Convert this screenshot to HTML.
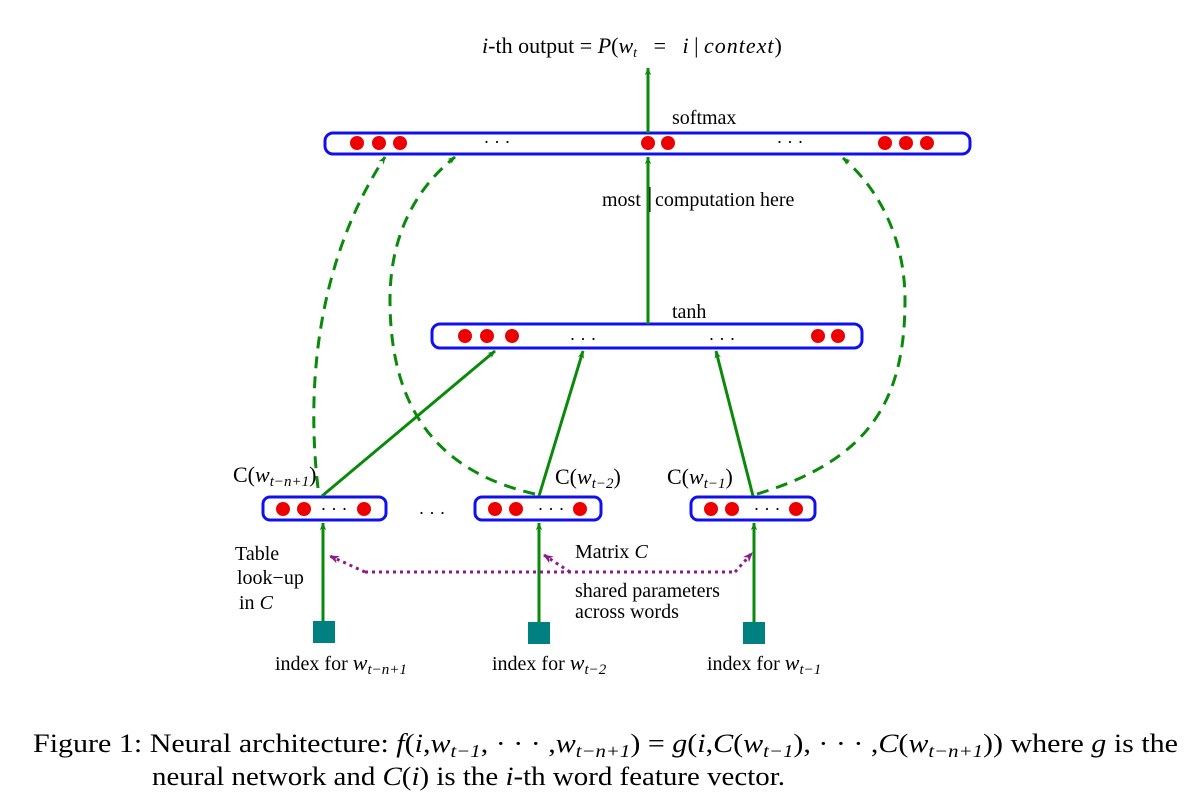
<!DOCTYPE html>
<html><head><meta charset="utf-8"><style>
html,body{margin:0;padding:0;background:#fff;}
svg{display:block;font-family:"Liberation Serif",serif;}
</style></head><body>
<svg width="1200" height="803" viewBox="0 0 1200 803" xmlns="http://www.w3.org/2000/svg">
<defs>
<marker id="ag" viewBox="0 0 10 10" refX="9" refY="5" markerWidth="8" markerHeight="8" orient="auto-start-reverse" markerUnits="userSpaceOnUse"><path d="M0,1 L10,5 L0,9 L3,5 z" fill="#0a8a0a"/></marker>
<marker id="ap" viewBox="0 0 10 10" refX="9" refY="5" markerWidth="10" markerHeight="10" orient="auto" markerUnits="userSpaceOnUse"><path d="M0,1 L10,5 L0,9 L3,5 z" fill="#8b1a8b"/></marker>
</defs>
<g fill="none" stroke="#1010ee" stroke-width="3">
<rect x="325" y="133" width="645" height="21" rx="8"/>
<rect x="432" y="324" width="430" height="24" rx="8"/>
<rect x="263" y="497" width="123" height="23" rx="7"/>
<rect x="475" y="497" width="126" height="23" rx="7"/>
<rect x="691" y="497" width="124" height="23" rx="7"/>
</g>
<g fill="#ee0000">
<ellipse cx="357" cy="143" rx="7" ry="7"/><ellipse cx="379" cy="143" rx="7" ry="7"/><ellipse cx="400" cy="143" rx="7" ry="7"/>
<ellipse cx="648" cy="143" rx="7" ry="7"/><ellipse cx="668" cy="143" rx="7" ry="7"/>
<ellipse cx="885" cy="143" rx="7" ry="7"/><ellipse cx="906" cy="143" rx="7" ry="7"/><ellipse cx="927" cy="143" rx="7" ry="7"/>
<ellipse cx="465" cy="336" rx="7" ry="7"/><ellipse cx="487" cy="336" rx="7" ry="7"/><ellipse cx="512" cy="336" rx="7" ry="7"/>
<ellipse cx="818" cy="336" rx="7" ry="7"/><ellipse cx="838" cy="336" rx="7" ry="7"/>
<ellipse cx="283" cy="509" rx="7" ry="7"/><ellipse cx="304" cy="509" rx="7" ry="7"/><ellipse cx="364" cy="509" rx="7" ry="7"/>
<ellipse cx="495" cy="509" rx="7" ry="7"/><ellipse cx="516" cy="509" rx="7" ry="7"/><ellipse cx="580" cy="509" rx="7" ry="7"/>
<ellipse cx="711" cy="509" rx="7" ry="7"/><ellipse cx="732" cy="509" rx="7" ry="7"/><ellipse cx="796" cy="509" rx="7" ry="7"/>
</g>
<g font-size="18" fill="#000" text-anchor="middle">
<text x="497" y="148">· · ·</text><text x="790" y="148">· · ·</text>
<text x="583" y="345">· · ·</text><text x="722" y="345">· · ·</text>
<text x="334" y="515">· · ·</text><text x="551" y="515">· · ·</text><text x="767" y="515">· · ·</text>
<text x="432" y="519">· · ·</text>
</g>
<g fill="#008080">
<rect x="313" y="621" width="22" height="22"/><rect x="528" y="622" width="22" height="22"/><rect x="743" y="622" width="22" height="22"/>
</g>
<g stroke="#0a8a0a" stroke-width="3" fill="none" marker-end="url(#ag)">
<line x1="648" y1="133" x2="648" y2="68"/>
<line x1="648" y1="324" x2="648" y2="157"/>
<line x1="323" y1="621" x2="323" y2="523"/>
<line x1="539" y1="622" x2="539" y2="523"/>
<line x1="754" y1="622" x2="754" y2="523"/>
<line x1="322" y1="496" x2="495" y2="351"/>
<line x1="539" y1="496" x2="583" y2="351"/>
<line x1="753" y1="496" x2="716" y2="351"/>
</g>
<g stroke="#0a8a0a" stroke-width="3" fill="none" stroke-dasharray="12,8" marker-end="url(#ag)">
<path d="M318,488 C310,420 305,280 385,157"/>
<path d="M535,494 C430,470 390,400 390,300 C390,230 420,185 455,157"/>
<path d="M757,494 C870,460 905,400 905,300 C905,240 880,190 843,158"/>
</g>
<g stroke="#8b1a8b" stroke-width="3" fill="none" stroke-dasharray="3,4">
<path d="M365,572 L735,572" />
<path d="M365,572 L330,556" marker-end="url(#ap)"/>
<path d="M570,572 L544,555" marker-end="url(#ap)"/>
<path d="M735,572 L752,553" marker-end="url(#ap)"/>
</g>
<g font-size="20" fill="#000">
<text x="482" y="53" font-size="22"><tspan font-style="italic">i</tspan>-th output = <tspan font-style="italic">P</tspan>(<tspan font-style="italic">w</tspan><tspan font-size="14" font-style="italic" dy="4">t</tspan><tspan dy="-4" xml:space="preserve">   =   </tspan><tspan font-style="italic">i</tspan><tspan xml:space="preserve"> | </tspan><tspan font-style="italic" letter-spacing="1">context</tspan>)</text>
<text x="672" y="124">softmax</text>
<text x="602" y="206">most</text>
<text x="655" y="206">computation here</text>
<text x="672" y="318">tanh</text>
<text x="233" y="482" font-size="22">C(<tspan font-style="italic">w</tspan><tspan font-size="15" font-style="italic" dy="4">t−n+1</tspan><tspan dy="-4">)</tspan></text>
<text x="555" y="484" font-size="22">C(<tspan font-style="italic">w</tspan><tspan font-size="15" font-style="italic" dy="4">t−2</tspan><tspan dy="-4">)</tspan></text>
<text x="667" y="484" font-size="22">C(<tspan font-style="italic">w</tspan><tspan font-size="15" font-style="italic" dy="4">t−1</tspan><tspan dy="-4">)</tspan></text>
<text x="235" y="560">Table</text>
<text x="237" y="584">look−up</text>
<text x="239" y="609">in <tspan font-style="italic">C</tspan></text>
<text x="575" y="558">Matrix <tspan font-style="italic">C</tspan></text>
<text x="575" y="597">shared parameters</text>
<text x="575" y="618">across words</text>
<text x="275" y="670">index for <tspan font-style="italic" font-size="22">w</tspan><tspan font-size="15" font-style="italic" dy="4">t−n+1</tspan></text>
<text x="492" y="670">index for <tspan font-style="italic" font-size="22">w</tspan><tspan font-size="15" font-style="italic" dy="4">t−2</tspan></text>
<text x="707" y="670">index for <tspan font-style="italic" font-size="22">w</tspan><tspan font-size="15" font-style="italic" dy="4">t−1</tspan></text>
</g>
<line x1="650" y1="187" x2="650" y2="212" stroke="#000" stroke-width="1"/>
<g font-size="26" fill="#000">
<text x="33" y="752" textLength="1145" lengthAdjust="spacingAndGlyphs">Figure 1:  Neural architecture: <tspan font-style="italic">f</tspan>(<tspan font-style="italic">i</tspan>,<tspan font-style="italic">w</tspan><tspan font-size="18" font-style="italic" dy="5">t−1</tspan><tspan dy="-5">, · · · ,</tspan><tspan font-style="italic">w</tspan><tspan font-size="18" font-style="italic" dy="5">t−n+1</tspan><tspan dy="-5">) = </tspan><tspan font-style="italic">g</tspan>(<tspan font-style="italic">i</tspan>,<tspan font-style="italic">C</tspan>(<tspan font-style="italic">w</tspan><tspan font-size="18" font-style="italic" dy="5">t−1</tspan><tspan dy="-5">), · · · ,</tspan><tspan font-style="italic">C</tspan>(<tspan font-style="italic">w</tspan><tspan font-size="18" font-style="italic" dy="5">t−n+1</tspan><tspan dy="-5">)) where </tspan><tspan font-style="italic">g</tspan> is the</text>
<text x="152" y="785" textLength="633" lengthAdjust="spacingAndGlyphs">neural network and <tspan font-style="italic">C</tspan>(<tspan font-style="italic">i</tspan>) is the <tspan font-style="italic">i</tspan>-th word feature vector.</text>
</g>
</svg>
</body></html>
